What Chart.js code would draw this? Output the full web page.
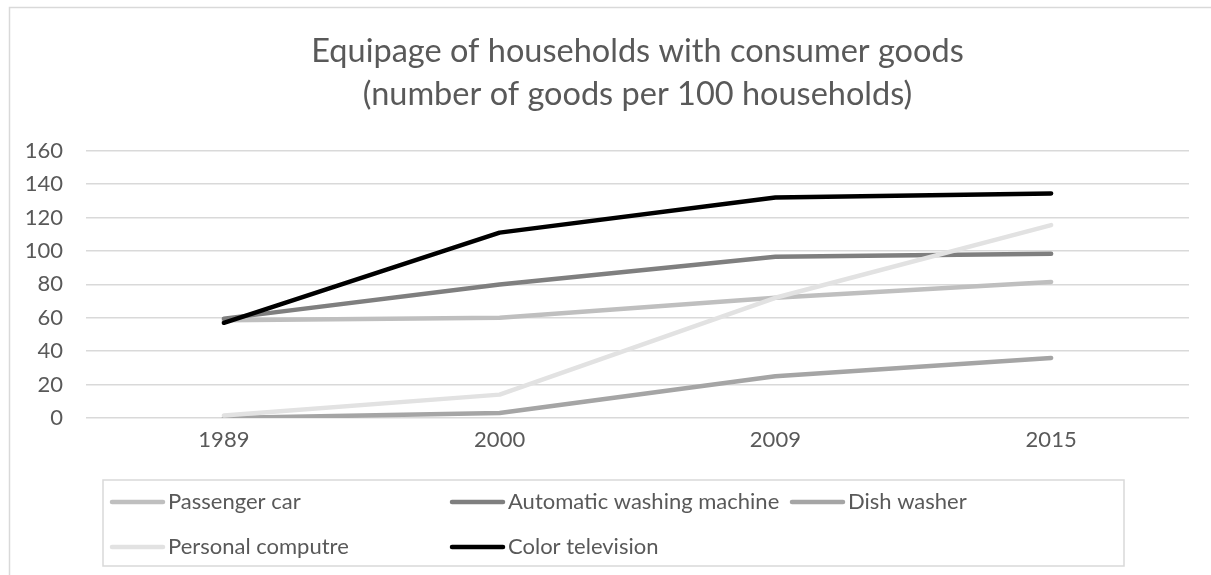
<!DOCTYPE html>
<html>
<head>
<meta charset="utf-8">
<script src="https://cdn.jsdelivr.net/npm/chart.js@4.4.1/dist/chart.umd.min.js"></script>
<style>
  html, body { margin: 0; padding: 0; background: #fff; }
  #wrap { width: 1211px; height: 575px; position: relative; }
</style>
</head>
<body>
<div id="wrap"><canvas id="goodsChart" width="1211" height="575"></canvas></div>
<script>
// Equipage of households with consumer goods (per 100 households)

const years = ['1989', '2000', '2009', '2015'];

const passengerCar = [58.5, 60, 72, 81.5];
const washingMachine = [59.5, 80, 96.5, 98.3];
const dishWasher = [0, 3, 25, 36];
const personalComputer = [1.5, 14, 72, 115.5];
const colorTelevision = [57, 111, 132, 134.5];

const seriesNames = ['Passenger car', 'Automatic washing machine', 'Dish washer', 'Personal computre', 'Color television'];
const seriesColors = ['#bfbfbf', '#7f7f7f', '#a5a5a5', '#e2e2e2', '#000000'];

const titleLines = ['Equipage of households with consumer goods', '(number of goods per 100 households)'];

const FONT = 'Lato, "Open Sans", sans-serif';
const TEXT_COLOR = '#595959';

Chart.defaults.font.family = FONT;
Chart.defaults.color = TEXT_COLOR;

// frame around the whole chart, like the Excel chart area border
const framePlugin = {
    id: 'frame',
    beforeDraw(chart) {
        const ctx = chart.ctx;
        ctx.save();
        ctx.fillStyle = '#ffffff';
        ctx.fillRect(0, 0, chart.width, chart.height);
        ctx.strokeStyle = '#d9d9d9';
        ctx.lineWidth = 1.5;
        ctx.strokeRect(9.5, 7.5, chart.width + 20, chart.height + 20);
        ctx.restore();
    }
};

// legend in a box below the axis, equal width columns like Excel lays it out
const boxLegend = {
    id: 'boxLegend',
    afterDraw(chart) {
        const ctx = chart.ctx;
        const colX = [110, 450, 790];
        const rowY = [502, 547];
        ctx.save();
        ctx.strokeStyle = '#d9d9d9';
        ctx.lineWidth = 1.5;
        ctx.strokeRect(103, 480, 1021, 86);
        ctx.font = '22px ' + FONT;
        ctx.textBaseline = 'middle';
        ctx.textAlign = 'left';
        chart.data.datasets.forEach((ds, i) => {
            const x = colX[i % 3];
            const y = rowY[Math.floor(i / 3)];
            ctx.strokeStyle = ds.borderColor;
            ctx.lineWidth = 4.5;
            ctx.lineCap = 'round';
            ctx.beginPath();
            ctx.moveTo(x + 2, y);
            ctx.lineTo(x + 53, y);
            ctx.stroke();
            ctx.fillStyle = TEXT_COLOR;
            ctx.fillText(ds.label, x + 58, y);
        });
        ctx.restore();
    }
};

const allSeries = [passengerCar, washingMachine, dishWasher, personalComputer, colorTelevision];

const datasets = allSeries.map((values, i) => ({
    label: seriesNames[i],
    data: values,
    borderColor: seriesColors[i],
    backgroundColor: seriesColors[i],
    borderWidth: 4.5,
    borderCapStyle: 'round',
    borderJoinStyle: 'round',
    pointRadius: 0,
    tension: 0,
    fill: false,
    order: allSeries.length - i   // later series sit on top
}));

new Chart(document.getElementById('goodsChart'), {
    type: 'line',
    data: { labels: years, datasets: datasets },
    options: {
        responsive: false,
        animation: false,
        layout: { padding: { left: 10, right: 22, top: 0, bottom: 121 } },
        plugins: {
            legend: { display: false },
            tooltip: { enabled: false },
            title: {
                display: true,
                fullSize: false,
                text: titleLines,
                color: TEXT_COLOR,
                font: { size: 32.5, weight: 'normal', lineHeight: 1.32 },
                padding: { top: 30, bottom: 35 }
            }
        },
        scales: {
            x: {
                offset: true,
                grid: { display: false, drawTicks: false },
                border: { display: false },
                ticks: { font: { size: 22 }, color: TEXT_COLOR, padding: 9, maxRotation: 0 },
                afterFit(scale) { scale.height = 36; }
            },
            y: {
                min: 0,
                max: 160,
                grid: { color: '#d9d9d9', lineWidth: 1.5, drawTicks: false },
                border: { display: false },
                ticks: { stepSize: 20, font: { size: 22 }, color: TEXT_COLOR, padding: 23 },
                afterFit(scale) { scale.width = 76; }
            }
        }
    },
    plugins: [framePlugin, boxLegend]
});
</script>
</body>
</html>
